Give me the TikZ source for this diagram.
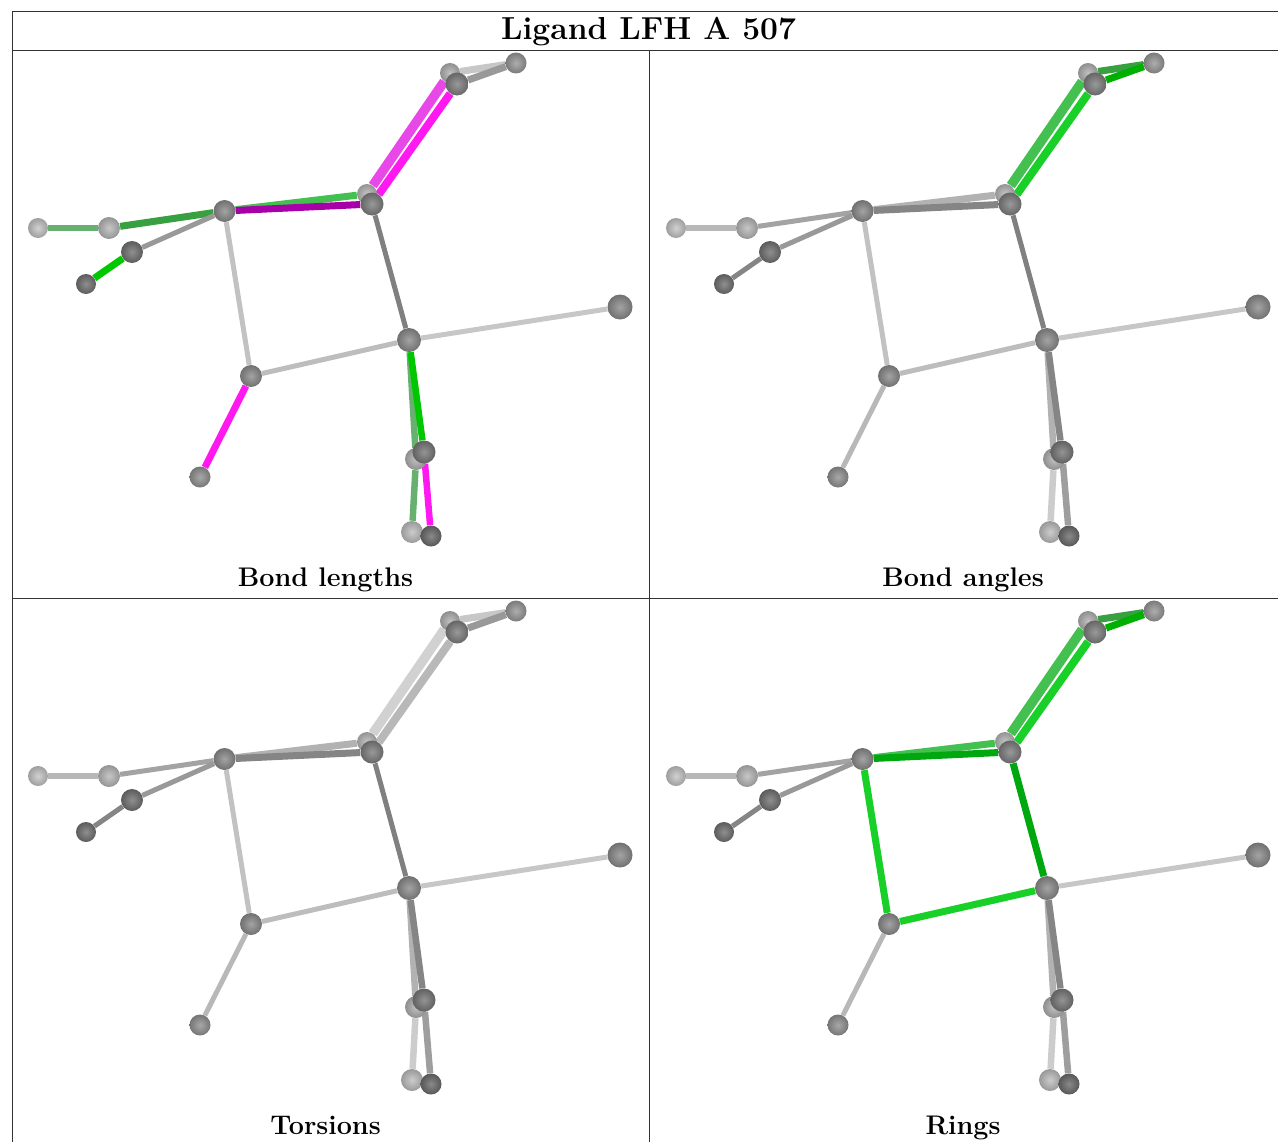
\documentclass[tikz,border=0pt]{standalone}
\pgfdeclarelayer{bg}
\pgfsetlayers{bg,main}
\tikzset{
  x=0.75pt,y=-0.75pt,
  atom/.style n args={2}{circle,minimum size=#1*0.75pt,inner sep=0pt,
    shade,inner color=black!\the\numexpr#2-14\relax,outer color=black!\the\numexpr#2+6\relax},
  bond/.style={line width={#1*0.75pt},line cap=butt},
  bond/.default=5,
  rule/.style={draw=black!80,line width=0.75pt},
  label/.style={font=\fontsize{20.2}{24}\selectfont\bfseries,inner sep=0pt,anchor=base},
}
\definecolor{Mh}{HTML}{FF18F0}
\definecolor{Ml}{HTML}{E848E8}
\definecolor{Md}{HTML}{A800A8}
\definecolor{Gb}{HTML}{00C800}
\definecolor{Gm}{HTML}{00B000}
\definecolor{Gd}{HTML}{38A040}
\definecolor{Gp}{HTML}{68B070}
\definecolor{Gt}{HTML}{44C050}
\definecolor{Gr}{HTML}{18D028}
\definecolor{Gs}{HTML}{00A810}
% default bond colours
\colorlet{caa}{black!28}\colorlet{cab}{black!36}\colorlet{cbc}{black!40}\colorlet{ccd}{black!48}
\colorlet{cbe}{black!24}\colorlet{ceg}{black!26}\colorlet{cef}{black!28}\colorlet{cgh}{black!22}
\colorlet{cgi}{black!50}\colorlet{cbi}{black!48}\colorlet{cbI}{black!30}\colorlet{cij}{black!28}
\colorlet{cIJ}{black!18}\colorlet{cjk}{black!40}\colorlet{cJk}{black!22}\colorlet{cgl}{black!48}
\colorlet{cgL}{black!30}\colorlet{clm}{black!38}\colorlet{cLM}{black!20}
% default widths of the bonds that widen when coloured
\def\wab{5}\def\wcd{5}\def\wef{5}\def\wbe{5}\def\weg{5}\def\wgi{5}
\newcommand{\molecule}[3]{%
  \def\dx{#2}\def\dy{#3}%
  \node[atom={20}{32}] (#1a1) at (\dx+38,\dy+228) {};
  \node[atom={22}{36}] (#1a2) at (\dx+109,\dy+228) {};
  \node[atom={20}{38}] (#1J) at (\dx+450,\dy+73) {};
  \node[atom={20}{36}] (#1I) at (\dx+367,\dy+194) {};
  \node[atom={22}{38}] (#1L) at (\dx+416,\dy+459) {};
  \node[atom={22}{34}] (#1M) at (\dx+412,\dy+532) {};
  \node[atom={22}{50}] (#1b) at (\dx+224.5,\dy+211) {};
  \node[atom={22}{58}] (#1c) at (\dx+132,\dy+252) {};
  \node[atom={20}{58}] (#1d) at (\dx+86,\dy+284) {};
  \node[atom={22}{50}] (#1e) at (\dx+251,\dy+376) {};
  \node[atom={21}{48}] (#1f) at (\dx+200,\dy+477) {};
  \node[atom={24}{50}] (#1g) at (\dx+409,\dy+340) {};
  \node[atom={25}{50}] (#1h) at (\dx+620,\dy+307) {};
  \node[atom={23}{54}] (#1i) at (\dx+372,\dy+204) {};
  \node[atom={23}{54}] (#1j) at (\dx+457,\dy+84) {};
  \node[atom={21}{46}] (#1k) at (\dx+516,\dy+63) {};
  \node[atom={23}{56}] (#1l) at (\dx+424,\dy+452) {};
  \node[atom={21}{60}] (#1m) at (\dx+431,\dy+536) {};
  \begin{pgfonlayer}{bg}
    \draw[bond=5.5,caa] (#1a1) -- (#1a2);
    \draw[bond=\wab,cab] (#1a2) -- (#1b);
    \draw[bond=5,cbc] (#1b) -- (#1c);
    \draw[bond=\wcd,ccd] (#1c) -- (#1d);
    \draw[bond=\wbe,cbe] (#1b) -- (#1e);
    \draw[bond=\weg,ceg] (#1e) -- (#1g);
    \draw[bond=\wef,cef] (#1e) -- (#1f);
    \draw[bond=5,cgh] (#1g) -- (#1h);
    \draw[bond=\wgi,cgi] (#1g) -- (#1i);
    \draw[bond=7,cbI] (#1b) -- (#1I);
    \draw[bond=7,cbi] (#1b) -- (#1i);
    \draw[bond=9.5,cIJ] (#1I) -- (#1J);
    \draw[bond=8,cij] (#1i) -- (#1j);
    \draw[bond=7,cJk] (#1J) -- (#1k);
    \draw[bond=7,cjk] (#1j) -- (#1k);
    \draw[bond=6.5,cgL] (#1g) -- (#1L);
    \draw[bond=6.5,cgl] (#1g) -- (#1l);
    \draw[bond=6.5,cLM] (#1L) -- (#1M);
    \draw[bond=6.5,clm] (#1l) -- (#1m);
  \end{pgfonlayer}%
}
\begin{document}
\begin{tikzpicture}
\useasboundingbox (0,0) rectangle (1278,1142);
% panel 1: bond lengths
\begin{scope}
  \colorlet{caa}{Gp}\colorlet{cab}{Gd}\colorlet{ccd}{Gb}\colorlet{cbI}{Gt}\colorlet{cbi}{Md}
  \colorlet{cIJ}{Ml}\colorlet{cij}{Mh}\colorlet{cef}{Mh}\colorlet{cgl}{Gb}\colorlet{cgL}{Gp}
  \colorlet{clm}{Mh}\colorlet{cLM}{Gp}
  \def\wab{7}\def\wcd{7}\def\wef{7}
  \molecule{p}{0}{0}
\end{scope}
% panel 2: bond angles
\begin{scope}
  \colorlet{cIJ}{Gt}\colorlet{cij}{Gr}\colorlet{cjk}{Gm}\colorlet{cJk}{Gd}
  \molecule{q}{638}{0}
\end{scope}
% panel 3: torsions
\begin{scope}
  \molecule{r}{0}{548}
\end{scope}
% panel 4: rings
\begin{scope}
  \colorlet{cIJ}{Gt}\colorlet{cij}{Gr}\colorlet{cjk}{Gm}\colorlet{cJk}{Gd}
  \colorlet{cbI}{Gt}\colorlet{cbi}{Gs}\colorlet{cgi}{Gs}\colorlet{cbe}{Gr}\colorlet{ceg}{Gr}
  \def\wbe{7}\def\weg{7}\def\wgi{7}
  \molecule{s}{638}{548}
\end{scope}
% table
\coordinate (tl) at (12,11);
\coordinate (tr) at (1278,11);
\coordinate (hl) at (12,50);
\coordinate (hr) at (1278,50);
\coordinate (ml) at (12,598);
\coordinate (mr) at (1278,598);
\coordinate (bl) at (12,1142);
\coordinate (vt) at (649,50);
\coordinate (vb) at (649,1142);
\draw[rule] (bl) -- (tl) -- (tr);
\draw[rule] (hl) -- (hr);
\draw[rule] (ml) -- (mr);
\draw[rule] (vt) -- (vb);
\node[label,font=\fontsize{23.85}{28}\selectfont\bfseries] (title) at (648.5,39) {Ligand LFH A 507};
\node[label] (t1) at (325.5,586) {Bond lengths};
\node[label] (t2) at (963,586) {Bond angles};
\node[label] (t3) at (325.5,1134) {Torsions};
\node[label] (t4) at (963,1134) {Rings};
\end{tikzpicture}
\end{document}
